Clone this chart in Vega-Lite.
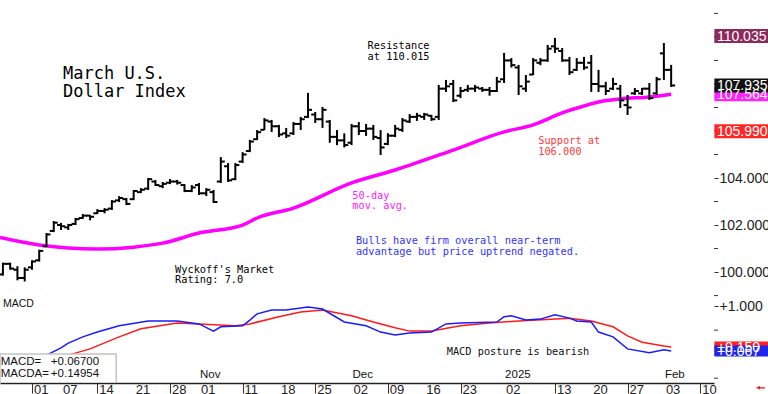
{
"$schema": "https://vega.github.io/schema/vega-lite/v6.json",
"padding": 0,
"background": "white",
"spacing": 0,
"config": {"view": {"stroke": null}, "font": "Liberation Sans", "text": {"font": "DejaVu Sans Mono"}},
"datasets": {
"bars": [
{"i":-4,"o":99.9,"h":100.4,"l":99.85,"c":100.35},{"i":-3,"o":100.35,"h":100.4,"l":100.1,"c":100.15},{"i":-2,"o":100.1,"h":100.25,"l":99.65,"c":99.75},{"i":-1,"o":99.75,"h":100.2,"l":99.6,"c":100.1},
{"i":0,"o":100.2,"h":100.5,"l":100.1,"c":100.45},{"i":1,"o":100.5,"h":100.95,"l":100.45,"c":100.9},{"i":2,"o":101.1,"h":101.66,"l":101.06,"c":101.6},{"i":3,"o":101.75,"h":102.17,"l":101.7,"c":102.1},
{"i":4,"o":102.0,"h":102.09,"l":101.79,"c":101.95},{"i":5,"o":101.9,"h":102.05,"l":101.79,"c":102.0},{"i":6,"o":102.05,"h":102.3,"l":102.0,"c":102.25},{"i":7,"o":102.3,"h":102.47,"l":102.26,"c":102.4},
{"i":8,"o":102.4,"h":102.43,"l":102.2,"c":102.35},{"i":9,"o":102.5,"h":102.68,"l":102.47,"c":102.6},{"i":10,"o":102.6,"h":102.72,"l":102.5,"c":102.65},{"i":11,"o":102.7,"h":103.06,"l":102.64,"c":103.0},
{"i":12,"o":103.05,"h":103.23,"l":102.98,"c":103.15},{"i":13,"o":103.1,"h":103.15,"l":102.85,"c":102.9},{"i":14,"o":103.1,"h":103.49,"l":103.06,"c":103.45},{"i":15,"o":103.4,"h":103.57,"l":103.36,"c":103.5},
{"i":16,"o":103.55,"h":104.0,"l":103.49,"c":103.95},{"i":17,"o":103.85,"h":103.91,"l":103.66,"c":103.7},{"i":18,"o":103.65,"h":103.83,"l":103.57,"c":103.75},{"i":19,"o":103.8,"h":103.96,"l":103.74,"c":103.85},
{"i":20,"o":103.85,"h":103.92,"l":103.72,"c":103.8},{"i":21,"o":103.7,"h":103.74,"l":103.4,"c":103.45},{"i":22,"o":103.45,"h":103.7,"l":103.4,"c":103.6},{"i":23,"o":103.7,"h":103.79,"l":103.28,"c":103.35},
{"i":24,"o":103.35,"h":103.57,"l":103.23,"c":103.5},{"i":25,"o":103.4,"h":103.49,"l":102.94,"c":102.98},{"i":26,"o":103.85,"h":104.89,"l":103.79,"c":104.7},{"i":27,"o":104.5,"h":104.64,"l":103.83,"c":103.9},
{"i":28,"o":103.95,"h":104.64,"l":103.91,"c":104.55},{"i":29,"o":104.7,"h":105.1,"l":104.64,"c":105.0},{"i":30,"o":105.15,"h":105.62,"l":105.1,"c":105.55},{"i":31,"o":105.65,"h":106.04,"l":105.62,"c":105.95},
{"i":32,"o":106.05,"h":106.55,"l":106.04,"c":106.45},{"i":33,"o":106.4,"h":106.47,"l":105.96,"c":106.2},{"i":34,"o":106.2,"h":106.26,"l":105.74,"c":105.85},{"i":35,"o":105.9,"h":106.13,"l":105.7,"c":105.8},
{"i":36,"o":105.9,"h":106.38,"l":105.83,"c":106.3},{"i":37,"o":106.3,"h":106.6,"l":106.04,"c":106.5},{"i":38,"o":106.6,"h":107.62,"l":106.55,"c":106.9},{"i":39,"o":106.7,"h":106.81,"l":106.34,"c":106.5},
{"i":40,"o":106.5,"h":107.02,"l":106.13,"c":106.9},{"i":41,"o":106.4,"h":106.47,"l":105.5,"c":105.75},{"i":42,"o":105.75,"h":106.04,"l":105.4,"c":105.6},{"i":43,"o":105.6,"h":105.9,"l":105.3,"c":105.4},
{"i":44,"o":105.5,"h":106.3,"l":105.4,"c":106.2},{"i":45,"o":106.2,"h":106.38,"l":105.83,"c":106.0},{"i":46,"o":106.0,"h":106.3,"l":105.79,"c":106.1},{"i":47,"o":106.1,"h":106.26,"l":105.62,"c":105.75},
{"i":48,"o":105.7,"h":106.04,"l":104.98,"c":105.3},{"i":49,"o":105.45,"h":105.91,"l":105.4,"c":105.8},{"i":50,"o":105.8,"h":106.26,"l":105.74,"c":106.1},{"i":51,"o":106.05,"h":106.55,"l":105.96,"c":106.45},
{"i":52,"o":106.4,"h":106.72,"l":106.34,"c":106.6},{"i":53,"o":106.6,"h":106.77,"l":106.43,"c":106.65},{"i":54,"o":106.6,"h":106.77,"l":106.47,"c":106.7},{"i":55,"o":106.65,"h":106.68,"l":106.43,"c":106.5},
{"i":56,"o":106.6,"h":107.96,"l":106.47,"c":107.8},{"i":57,"o":107.8,"h":108.17,"l":107.66,"c":107.9},{"i":58,"o":108.0,"h":108.17,"l":107.23,"c":107.3},{"i":59,"o":107.5,"h":107.87,"l":107.4,"c":107.7},
{"i":60,"o":107.75,"h":107.96,"l":107.66,"c":107.8},{"i":61,"o":107.8,"h":107.96,"l":107.66,"c":107.85},{"i":62,"o":107.8,"h":107.87,"l":107.66,"c":107.75},{"i":63,"o":107.75,"h":107.87,"l":107.5,"c":107.7},
{"i":64,"o":107.7,"h":108.3,"l":107.66,"c":108.1},{"i":65,"o":108.2,"h":109.32,"l":108.04,"c":109.0},{"i":66,"o":109.0,"h":109.1,"l":108.7,"c":108.8},{"i":67,"o":108.7,"h":108.81,"l":107.53,"c":107.9},
{"i":68,"o":107.8,"h":108.38,"l":107.66,"c":108.1},{"i":69,"o":108.4,"h":109.1,"l":108.38,"c":109.0},{"i":70,"o":108.9,"h":109.1,"l":108.8,"c":109.0},{"i":71,"o":109.0,"h":109.66,"l":108.94,"c":109.5},
{"i":72,"o":109.6,"h":109.96,"l":109.32,"c":109.5},{"i":73,"o":109.4,"h":109.53,"l":108.94,"c":109.0},{"i":74,"o":109.0,"h":109.15,"l":108.38,"c":108.5},{"i":75,"o":108.6,"h":109.1,"l":108.55,"c":108.9},
{"i":76,"o":108.9,"h":109.15,"l":108.6,"c":108.7},{"i":77,"o":108.9,"h":109.23,"l":107.66,"c":108.0},{"i":78,"o":108.0,"h":108.6,"l":107.66,"c":107.9},{"i":79,"o":107.9,"h":108.09,"l":107.53,"c":107.7},
{"i":80,"o":107.8,"h":108.26,"l":107.74,"c":108.0},{"i":81,"o":107.8,"h":107.96,"l":106.98,"c":107.3},{"i":82,"o":107.1,"h":107.53,"l":106.68,"c":107.0},{"i":83,"o":107.6,"h":107.83,"l":107.53,"c":107.7},
{"i":84,"o":107.6,"h":107.83,"l":107.53,"c":107.8},{"i":85,"o":107.8,"h":108.04,"l":107.32,"c":107.4},{"i":86,"o":107.6,"h":108.3,"l":107.53,"c":108.2},{"i":87,"o":109.3,"h":109.74,"l":108.17,"c":108.6},
{"i":88,"o":108.6,"h":108.81,"l":107.87,"c":107.935}
],
"ma": [
{"i":-4.4,"v":101.47},{"i":1,"v":101.15},{"i":5,"v":101.02},{"i":9,"v":100.98},{"i":14,"v":101.06},{"i":18,"v":101.23},{"i":23,"v":101.66},{"i":29,"v":102.0},{"i":31,"v":102.3},{"i":36,"v":102.72},{"i":44,"v":103.79},{"i":50,"v":104.34},{"i":58,"v":105.19},{"i":65,"v":105.96},{"i":69,"v":106.26},{"i":73,"v":106.77},{"i":76,"v":107.06},{"i":78,"v":107.23},{"i":81,"v":107.36},{"i":85,"v":107.45},{"i":88,"v":107.564}
],
"macd": [
{"i":-4,"v":-0.45},{"i":0,"v":-0.25},{"i":2,"v":-0.02},{"i":4,"v":0.13},{"i":5,"v":0.23},{"i":7,"v":0.36},{"i":9,"v":0.46},{"i":12,"v":0.59},{"i":16,"v":0.69},{"i":20,"v":0.69},{"i":22,"v":0.65},{"i":23,"v":0.63},{"i":25,"v":0.48},{"i":26,"v":0.57},{"i":29,"v":0.59},{"i":30,"v":0.71},{"i":31,"v":0.84},{"i":33,"v":0.92},{"i":35,"v":0.92},{"i":38,"v":0.98},{"i":40,"v":0.94},{"i":43,"v":0.67},{"i":46,"v":0.59},{"i":48,"v":0.46},{"i":50,"v":0.4},{"i":52,"v":0.44},{"i":55,"v":0.46},{"i":57,"v":0.63},{"i":59,"v":0.65},{"i":64,"v":0.67},{"i":65,"v":0.78},{"i":66,"v":0.8},{"i":68,"v":0.71},{"i":70,"v":0.73},{"i":72,"v":0.82},{"i":74,"v":0.75},{"i":75,"v":0.69},{"i":77,"v":0.67},{"i":78,"v":0.46},{"i":80,"v":0.36},{"i":82,"v":0.11},{"i":85,"v":0.03},{"i":87,"v":0.09},{"i":88,"v":0.067}
],
"sig": [
{"i":-4,"v":-0.6},{"i":0,"v":-0.4},{"i":5,"v":-0.02},{"i":8,"v":0.11},{"i":12,"v":0.36},{"i":15,"v":0.53},{"i":20,"v":0.65},{"i":23,"v":0.63},{"i":28,"v":0.59},{"i":30,"v":0.63},{"i":34,"v":0.78},{"i":37,"v":0.88},{"i":40,"v":0.92},{"i":44,"v":0.8},{"i":47,"v":0.67},{"i":50,"v":0.55},{"i":52,"v":0.48},{"i":55,"v":0.48},{"i":59,"v":0.59},{"i":63,"v":0.65},{"i":67,"v":0.69},{"i":74,"v":0.75},{"i":77,"v":0.69},{"i":80,"v":0.57},{"i":82,"v":0.38},{"i":84,"v":0.25},{"i":87,"v":0.17},{"i":88,"v":0.15}
],
"tags": [
{"k":"res","v":110.035,"t":"110.035"},{"k":"ma","v":107.564,"t":"107.564"},{"k":"close","v":107.935,"t":"107.935"},{"k":"sup","v":105.99,"t":"105.990"}
],
"mtags": [
{"k":"sig","v":0.15,"t":"+0.150"},{"k":"macd","v":0.067,"t":"+0.067"}
],
"yticks": [{"v":99},{"v":101},{"v":103},{"v":105},{"v":106},{"v":107},{"v":108},{"v":109},{"v":110},{"v":111}],
"mticks": [{"v":0.5},{"v":0},{"v":-0.5}],
"notes": [
{"i":4.27,"v":108.21,"t":"March U.S.\nDollar Index","k":"title"},
{"i":46.2,"v":109.48,"t":"Resistance\nat 110.015","k":"black"},
{"i":69.7,"v":105.43,"t":"Support at\n106.000","k":"red"},
{"i":44.1,"v":103.12,"t":"50-day\nmov. avg.","k":"magenta"},
{"i":44.6,"v":101.19,"t":"Bulls have firm overall near-term\nadvantage but price uptrend negated.","k":"blue"},
{"i":19.7,"v":99.97,"t":"Wyckoff's Market\nRating: 7.0","k":"black"}
],
"mnotes": [
{"i":-4.0,"v":0.98,"t":"MACD","k":"sans"},
{"i":57.1,"v":-0.02,"t":"MACD posture is bearish","k":"mono"}
],
"box": [{"x1":-4.4,"x2":11.6,"y1":0.005,"y2":-0.6}],
"arrow": [{"i":100.3,"v":-0.7}],
"months": [
{"i":23,"t":"Nov"},{"i":44,"t":"Dec"},{"i":65,"t":"2025"},{"i":87,"t":"Feb"}
],
"days": [
{"i":0,"t":"01"},{"i":4,"t":"07"},{"i":9,"t":"14"},{"i":14,"t":"21"},{"i":19,"t":"28"},{"i":23,"t":"01"},{"i":29,"t":"11"},{"i":34,"t":"18"},{"i":39,"t":"25"},{"i":44,"t":"02"},{"i":49,"t":"09"},{"i":54,"t":"16"},{"i":59,"t":"23"},{"i":65,"t":"02"},{"i":72,"t":"13"},{"i":77,"t":"20"},{"i":82,"t":"27"},{"i":87,"t":"03"},{"i":92,"t":"10"}
],
"legend": [
{"v":-0.225,"a":"MACD=","b":"+0.06700"},{"v":-0.475,"a":"MACDA=","b":"+0.14954"}
]
},
"vconcat": [
{
"width": 714, "height": 297,
"layer": [
{"mark": {"type": "rule", "color": "#d4a4bf", "strokeWidth": 1.5, "clip": true}, "encoding": {"y": {"datum": 110.035, "type": "quantitative", "scale": {"domain": [98.94, 111.57], "nice": false, "zero": false}, "axis": {"orient": "right", "values": [100, 102, 104], "format": ".3f", "domain": false, "tickSize": 4, "tickColor": "#333", "labelFont": "Liberation Sans", "labelFontSize": 14, "labelColor": "#222", "labelPadding": 1, "grid": false, "title": null}}}},
{"mark": {"type": "rule", "color": "#ff7a7a", "strokeWidth": 1.5, "clip": true}, "encoding": {"y": {"datum": 105.99, "type": "quantitative"}}},
{"mark": {"type": "rule", "color": "#222", "strokeWidth": 2, "clip": true}, "encoding": {"y": {"datum": 98.953, "type": "quantitative"}}},
{"mark": {"type": "rule", "color": "#333", "strokeWidth": 1.5, "clip": true}, "encoding": {"x": {"datum": 93.8, "type": "quantitative", "axis": null, "scale": {"domain": [-4.4, 93.9], "nice": false, "zero": false}}}},
{"data": {"name": "yticks"}, "mark": {"type": "rule", "color": "#333", "strokeWidth": 1}, "encoding": {"x": {"datum": 93.9, "type": "quantitative", "axis": null}, "x2": {"datum": 94.45}, "y": {"field": "v", "type": "quantitative", "title": null}}},
{"data": {"name": "ma"}, "mark": {"type": "line", "color": "#ff00ff", "strokeWidth": 3.5, "interpolate": "monotone", "clip": true}, "encoding": {"x": {"field": "i", "type": "quantitative", "axis": null}, "y": {"field": "v", "type": "quantitative", "title": null}}},
{"data": {"name": "bars"}, "mark": {"type": "rule", "color": "#000", "strokeWidth": 2, "clip": true}, "encoding": {"x": {"field": "i", "type": "quantitative", "axis": null}, "y": {"field": "l", "type": "quantitative", "title": null}, "y2": {"field": "h"}}},
{"data": {"name": "bars"}, "mark": {"type": "rule", "color": "#000", "strokeWidth": 2, "xOffset": -4, "x2Offset": 0, "clip": true}, "encoding": {"x": {"field": "i", "type": "quantitative", "axis": null}, "x2": {"field": "i"}, "y": {"field": "o", "type": "quantitative", "title": null}}},
{"data": {"name": "bars"}, "mark": {"type": "rule", "color": "#000", "strokeWidth": 2, "xOffset": 0, "x2Offset": 4, "clip": true}, "encoding": {"x": {"field": "i", "type": "quantitative", "axis": null}, "x2": {"field": "i"}, "y": {"field": "c", "type": "quantitative", "title": null}}},
{"data": {"name": "notes"}, "transform": [{"filter": "datum.k == 'title'"}, {"calculate": "split(datum.t, '\\n')", "as": "lines"}], "mark": {"type": "text", "align": "left", "baseline": "alphabetic", "fontSize": 17, "lineHeight": 18, "color": "#000"}, "encoding": {"x": {"field": "i", "type": "quantitative", "axis": null}, "y": {"field": "v", "type": "quantitative", "title": null}, "text": {"field": "lines"}}},
{"data": {"name": "notes"}, "transform": [{"filter": "datum.k != 'title'"}, {"calculate": "split(datum.t, '\\n')", "as": "lines"}], "mark": {"type": "text", "align": "left", "baseline": "alphabetic", "fontSize": 10.3, "lineHeight": 10.5}, "encoding": {"x": {"field": "i", "type": "quantitative", "axis": null}, "y": {"field": "v", "type": "quantitative", "title": null}, "text": {"field": "lines"}, "color": {"field": "k", "type": "nominal", "legend": null, "scale": {"domain": ["black", "red", "magenta", "blue"], "range": ["#000000", "#ff3a3a", "#ff22ff", "#3333ff"]}}}},
{"data": {"name": "tags"}, "mark": {"type": "rect", "height": 14, "clip": false}, "encoding": {"x": {"datum": 93.95, "type": "quantitative", "axis": null}, "x2": {"datum": 101.34}, "y": {"field": "v", "type": "quantitative", "title": null}, "fill": {"field": "k", "type": "nominal", "legend": null, "scale": {"domain": ["res", "ma", "close", "sup", "sig", "macd"], "range": ["#8c2a5c", "#ff22ff", "#111111", "#ff2626", "#ff2020", "#2026e6"]}}}},
{"data": {"name": "tags"}, "mark": {"type": "text", "align": "left", "baseline": "middle", "font": "Liberation Sans", "fontSize": 14, "color": "#ffffff", "dy": 1, "clip": false}, "encoding": {"x": {"datum": 94.3, "type": "quantitative", "axis": null}, "y": {"field": "v", "type": "quantitative", "title": null}, "text": {"field": "t"}}}
]
},
{
"width": 714, "height": 86,
"layer": [
{"mark": {"type": "rule", "color": "#ffb8b8", "strokeWidth": 1.2, "clip": true}, "encoding": {"y": {"datum": 0.185, "type": "quantitative", "scale": {"domain": [-0.6, 1.19], "nice": false, "zero": false}, "axis": {"orient": "right", "values": [1], "labelExpr": "'+1.000'", "domain": false, "tickSize": 4, "tickColor": "#333", "labelFont": "Liberation Sans", "labelFontSize": 14, "labelColor": "#222", "labelPadding": 1, "grid": false, "title": null}}}},
{"mark": {"type": "rule", "color": "#b8b8ff", "strokeWidth": 1.2, "clip": true}, "encoding": {"y": {"datum": -0.18, "type": "quantitative"}}},
{"data": {"name": "sig"}, "mark": {"type": "line", "color": "#ff1a1a", "strokeWidth": 1.5, "clip": true}, "encoding": {"x": {"field": "i", "type": "quantitative", "title": null, "scale": {"domain": [-4.4, 93.9], "nice": false, "zero": false}, "axis": {"values": [0,4,9,14,19,23,29,34,39,44,49,54,59,65,72,77,82,87,92], "labels": false, "tickSize": 10, "tickColor": "#333", "domainColor": "#222", "domainWidth": 1.5, "grid": false, "title": null}}, "y": {"field": "v", "type": "quantitative", "title": null}}},
{"mark": {"type": "rule", "color": "#333", "strokeWidth": 1.5, "clip": true}, "encoding": {"x": {"datum": 93.8, "type": "quantitative", "title": null}}},
{"data": {"name": "mticks"}, "mark": {"type": "rule", "color": "#333", "strokeWidth": 1}, "encoding": {"x": {"datum": 93.9, "type": "quantitative", "title": null}, "x2": {"datum": 94.45}, "y": {"field": "v", "type": "quantitative", "title": null}}},
{"data": {"name": "macd"}, "mark": {"type": "line", "color": "#1a1aff", "strokeWidth": 1.5, "clip": true}, "encoding": {"x": {"field": "i", "type": "quantitative", "title": null}, "y": {"field": "v", "type": "quantitative", "title": null}}},
{"data": {"name": "box"}, "mark": {"type": "rect", "fill": "#ffffff", "stroke": "#c4c4c4", "strokeWidth": 1.5, "clip": true}, "encoding": {"x": {"field": "x1", "type": "quantitative", "title": null}, "x2": {"field": "x2"}, "y": {"field": "y1", "type": "quantitative", "title": null}, "y2": {"field": "y2"}}},
{"data": {"name": "legend"}, "mark": {"type": "text", "align": "left", "baseline": "alphabetic", "font": "Liberation Sans", "fontSize": 11.5, "color": "#111"}, "encoding": {"x": {"datum": -4.3, "type": "quantitative", "title": null}, "y": {"field": "v", "type": "quantitative", "title": null}, "text": {"field": "a"}}},
{"data": {"name": "legend"}, "mark": {"type": "text", "align": "left", "baseline": "alphabetic", "font": "Liberation Sans", "fontSize": 11.5, "color": "#111"}, "encoding": {"x": {"datum": 2.6, "type": "quantitative", "title": null}, "y": {"field": "v", "type": "quantitative", "title": null}, "text": {"field": "b"}}},
{"data": {"name": "months"}, "mark": {"type": "text", "align": "left", "baseline": "alphabetic", "font": "Liberation Sans", "fontSize": 11.5, "color": "#111", "dx": 1}, "encoding": {"x": {"field": "i", "type": "quantitative", "title": null}, "y": {"datum": -0.5, "type": "quantitative", "title": null}, "text": {"field": "t"}}},
{"data": {"name": "days"}, "mark": {"type": "text", "align": "left", "baseline": "top", "font": "Liberation Sans", "fontSize": 13, "color": "#222", "dx": 2, "clip": false}, "encoding": {"x": {"field": "i", "type": "quantitative", "title": null}, "y": {"datum": -0.62, "type": "quantitative", "title": null}, "text": {"field": "t"}}},
{"data": {"name": "mnotes"}, "transform": [{"filter": "datum.k == 'sans'"}], "mark": {"type": "text", "align": "left", "baseline": "alphabetic", "font": "Liberation Sans", "fontSize": 10.5, "color": "#111"}, "encoding": {"x": {"field": "i", "type": "quantitative", "title": null}, "y": {"field": "v", "type": "quantitative", "title": null}, "text": {"field": "t"}}},
{"data": {"name": "mnotes"}, "transform": [{"filter": "datum.k == 'mono'"}], "mark": {"type": "text", "align": "left", "baseline": "alphabetic", "fontSize": 10.3, "color": "#111"}, "encoding": {"x": {"field": "i", "type": "quantitative", "title": null}, "y": {"field": "v", "type": "quantitative", "title": null}, "text": {"field": "t"}}},
{"data": {"name": "mtags"}, "mark": {"type": "rect", "height": 11, "clip": false}, "encoding": {"x": {"datum": 93.95, "type": "quantitative", "title": null}, "x2": {"datum": 101.34}, "y": {"field": "v", "type": "quantitative", "title": null}, "fill": {"field": "k", "type": "nominal", "legend": null, "scale": {"domain": ["res", "ma", "close", "sup", "sig", "macd"], "range": ["#8c2a5c", "#ff22ff", "#111111", "#ff2626", "#ff2020", "#2026e6"]}}}},
{"data": {"name": "mtags"}, "mark": {"type": "text", "align": "left", "baseline": "middle", "font": "Liberation Sans", "fontSize": 14, "color": "#ffffff", "dy": 1, "clip": false}, "encoding": {"x": {"datum": 94.3, "type": "quantitative", "title": null}, "y": {"field": "v", "type": "quantitative", "title": null}, "text": {"field": "t"}}},
{"data": {"name": "arrow"}, "mark": {"type": "point", "shape": "arrow", "angle": 270, "filled": true, "color": "#ee1111", "size": 80, "opacity": 1}, "encoding": {"x": {"field": "i", "type": "quantitative", "title": null}, "y": {"field": "v", "type": "quantitative", "title": null}}}
]
}
]
}
